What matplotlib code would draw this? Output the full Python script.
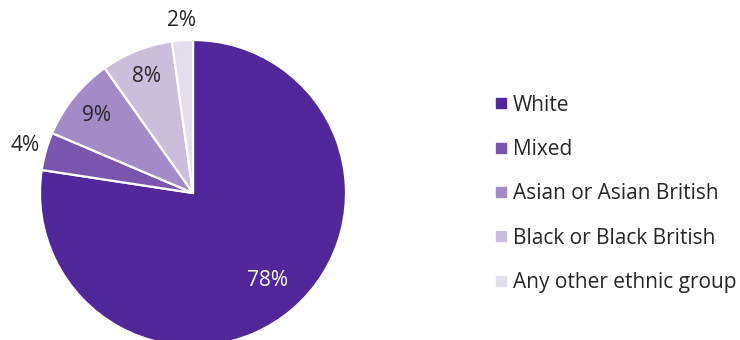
import numpy as np
import matplotlib
matplotlib.use("Agg")
import matplotlib.pyplot as plt
from matplotlib.lines import Line2D

plt.rcParams['font.family'] = ['Open Sans', 'DejaVu Sans']

groups = ["White", "Mixed", "Asian or Asian British", "Black or Black British", "Any other ethnic group"]
shares = [77.4, 4.0, 8.8, 7.6, 2.2]
pct_labels = ["78%", "4%", "9%", "8%", "2%"]
colors = ["#51279A", "#7A55AE", "#A38BC8", "#CBBEDC", "#E3DDEC"]
label_radius = [0.75, 1.14, 0.81, 0.82, 1.13]
label_colors = ["white", "#262626", "#262626", "#262626", "#262626"]

fig = plt.figure(figsize=(7.4, 3.4), dpi=100)
ax = fig.add_axes([40 / 740, -6 / 340, 306 / 740, 306 / 340])

wedges, _ = ax.pie(shares, colors=colors, startangle=90, counterclock=False,
                   wedgeprops=dict(edgecolor="white", linewidth=1.6))
ax.set_xlim(-1, 1)
ax.set_ylim(-1, 1)
ax.set_aspect("equal")

for w, lab, r, c in zip(wedges, pct_labels, label_radius, label_colors):
    mid = np.deg2rad((w.theta1 + w.theta2) / 2)
    ax.text(r * np.cos(mid), r * np.sin(mid), lab, ha="center", va="center",
            fontsize=15, color=c, clip_on=False)

handles = [Line2D([], [], marker="s", linestyle="none", markersize=6.5,
                  markerfacecolor=c, markeredgecolor=c) for c in colors]
fig.legend(handles, groups, loc="center left", bbox_to_anchor=(495 / 740, 0.43),
           frameon=False, fontsize=15, labelcolor="#262626", handlelength=0.55,
           handletextpad=0.3, labelspacing=1.12, borderpad=0, borderaxespad=0)

fig.savefig("out.png", dpi=100, facecolor="white")
